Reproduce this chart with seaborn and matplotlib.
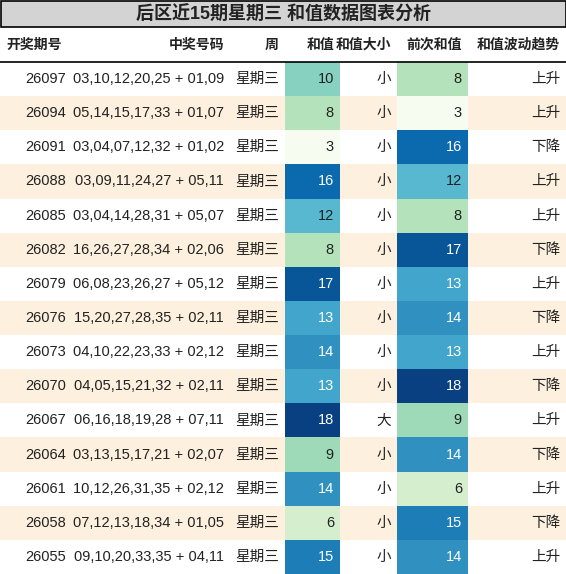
import matplotlib
matplotlib.use("Agg")
import matplotlib.pyplot as plt
from matplotlib.patches import Rectangle
import seaborn as sns

sns.set_theme(style="white")
plt.rcParams['font.family'] = ['Liberation Sans', 'Noto Sans CJK SC', 'DejaVu Sans']

title = "后区近15期星期三 和值数据图表分析"
headers = ["开奖期号", "中奖号码", "周", "和值", "和值大小", "前次和值", "和值波动趋势"]
issues = ["26097", "26094", "26091", "26088", "26085", "26082", "26079", "26076",
          "26073", "26070", "26067", "26064", "26061", "26058", "26055"]
numbers = ["03,10,12,20,25 + 01,09", "05,14,15,17,33 + 01,07", "03,04,07,12,32 + 01,02",
           "03,09,11,24,27 + 05,11", "03,04,14,28,31 + 05,07", "16,26,27,28,34 + 02,06",
           "06,08,23,26,27 + 05,12", "15,20,27,28,35 + 02,11", "04,10,22,23,33 + 02,12",
           "04,05,15,21,32 + 02,11", "06,16,18,19,28 + 07,11", "03,13,15,17,21 + 02,07",
           "10,12,26,31,35 + 02,12", "07,12,13,18,34 + 01,05", "09,10,20,33,35 + 04,11"]
weekday = ["星期三"] * 15
sums = [10, 8, 3, 16, 12, 8, 17, 13, 14, 13, 18, 9, 14, 6, 15]
size = ["小"] * 10 + ["大"] + ["小"] * 4
prev_sums = [8, 3, 16, 12, 8, 17, 13, 14, 13, 18, 9, 14, 6, 15, 14]
trend = ["上升", "上升", "下降", "上升", "上升", "下降", "上升", "下降",
         "上升", "下降", "上升", "下降", "上升", "下降", "上升"]

col_edges = [0, 72, 230, 285, 340, 397, 468, 566]
W, H = 566, 574
title_h, head_h = 27, 35
row_h = (H - title_h - head_h) / len(issues)

cmap = sns.color_palette("GnBu", as_cmap=True)
norm = plt.Normalize(3, 18)

fig = plt.figure(figsize=(W / 100, H / 100), dpi=100)
ax = fig.add_axes([0, 0, 1, 1])
ax.set_xlim(0, W)
ax.set_ylim(H, 0)
ax.axis("off")

# title
ax.add_patch(Rectangle((0.5, 0.5), W - 1, title_h - 1, facecolor="#d3d3d3", edgecolor="black", lw=1.2))
ax.text(W / 2, title_h / 2 + 1, title, ha="center", va="center", fontsize=13, fontweight="bold", color="#222222")

# header
hy = title_h + head_h / 2
for j, h in enumerate(headers):
    x = col_edges[j] + 6 if j == 0 else col_edges[j + 1] - 6
    ax.text(x, hy, h, ha="left" if j == 0 else "right", va="center", fontsize=10, fontweight="bold", color="#222222")
ax.plot([0, W], [title_h + head_h, title_h + head_h], color="black", lw=1.2)

for i in range(len(issues)):
    y0 = title_h + head_h + i * row_h
    yc = y0 + row_h / 2
    if i % 2 == 1:
        ax.add_patch(Rectangle((0, y0), W, row_h, facecolor="#fdf0de", edgecolor="none"))
    vals = [issues[i], numbers[i], weekday[i], str(sums[i]), size[i], str(prev_sums[i]), trend[i]]
    for j, v in enumerate(vals):
        color = "#222222"
        if j in (3, 5):
            num = sums[i] if j == 3 else prev_sums[i]
            ax.add_patch(Rectangle((col_edges[j], y0), col_edges[j + 1] - col_edges[j], row_h,
                                   facecolor=cmap(norm(num)), edgecolor="none"))
            if num >= 13:
                color = "white"
        ax.text(col_edges[j + 1] - 6, yc, v, ha="right", va="center", fontsize=10.5, color=color)

fig.savefig("out.png", dpi=100)
